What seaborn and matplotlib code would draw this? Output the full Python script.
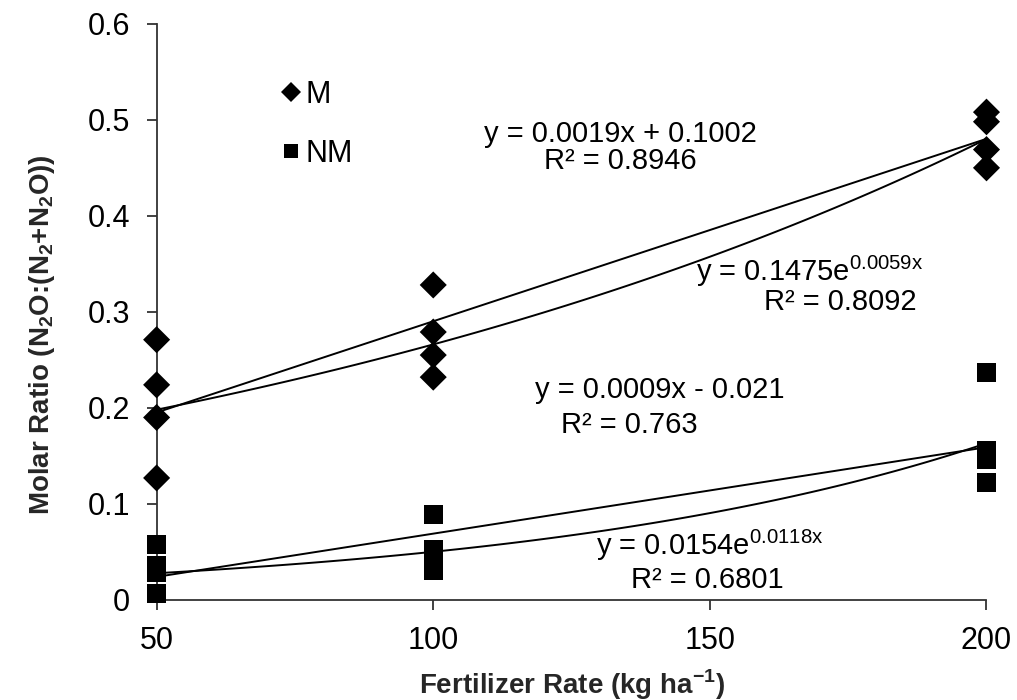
import numpy as np
import pandas as pd
import seaborn as sns
import matplotlib
matplotlib.use("Agg")
import matplotlib.pyplot as plt

# fertilizer rates and measured molar ratios
rate_m = [50, 50, 50, 50, 100, 100, 100, 100, 200, 200, 200, 200]
ratio_m = [0.271, 0.224, 0.190, 0.127, 0.328, 0.279, 0.255, 0.232, 0.508, 0.498, 0.469, 0.450]
rate_nm = [50, 50, 50, 50, 100, 100, 100, 100, 200, 200, 200, 200]
ratio_nm = [0.058, 0.036, 0.029, 0.007, 0.089, 0.052, 0.042, 0.031, 0.237, 0.156, 0.146, 0.122]

# trendline coefficients shown on the chart
lin_m = (0.0019, 0.1002)
exp_m = (0.1475, 0.0059)
lin_nm = (0.0009, -0.021)
exp_nm = (0.0154, 0.0118)

df = pd.concat([
    pd.DataFrame({"rate": rate_m, "ratio": ratio_m, "group": "M"}),
    pd.DataFrame({"rate": rate_nm, "ratio": ratio_nm, "group": "NM"}),
])

sns.set_style("ticks")
plt.rcParams["font.family"] = ["Liberation Sans", "DejaVu Sans"]
plt.rcParams["mathtext.fontset"] = "custom"
plt.rcParams["mathtext.rm"] = "Liberation Sans"
plt.rcParams["mathtext.bf"] = "Liberation Sans:bold"
plt.rcParams["text.color"] = "black"

fig = plt.figure(figsize=(10.17, 7), dpi=100)
ax = fig.add_axes([0.154, 0.143, 0.816, 0.823])

sns.scatterplot(data=df, x="rate", y="ratio", hue="group", style="group",
                markers={"M": "D", "NM": "s"}, palette={"M": "black", "NM": "black"},
                s=190, edgecolor="black", linewidth=0, ax=ax, zorder=3)
for c in ax.collections:
    c.set_clip_on(False)

xs = np.linspace(50, 200, 100)
for a, b in (lin_m, lin_nm):
    ax.plot(xs, a * xs + b, color="black", lw=1.4)
for a, b in (exp_m, exp_nm):
    ax.plot(xs, a * np.exp(b * xs), color="black", lw=1.4)

fs = 21
ax.text(133.8, 0.485, "y = 0.0019x + 0.1002", ha="center", va="center", fontsize=fs)
ax.text(133.8, 0.457, "R² = 0.8946", ha="center", va="center", fontsize=fs)
ax.text(168, 0.342, r"y = 0.1475e$^{\mathrm{0.0059x}}$", ha="center", va="center", fontsize=fs)
ax.text(173.5, 0.310, "R² = 0.8092", ha="center", va="center", fontsize=fs)
ax.text(141, 0.219, "y = 0.0009x - 0.021", ha="center", va="center", fontsize=fs)
ax.text(135.4, 0.182, "R² = 0.763", ha="center", va="center", fontsize=fs)
ax.text(150, 0.057, r"y = 0.0154e$^{\mathrm{0.0118x}}$", ha="center", va="center", fontsize=fs)
ax.text(149.5, 0.021, "R² = 0.6801", ha="center", va="center", fontsize=fs)

ax.set_xlim(50, 200)
ax.set_ylim(0, 0.6)
ax.set_xticks([50, 100, 150, 200])
ax.set_yticks([0, 0.1, 0.2, 0.3, 0.4, 0.5, 0.6])
ax.set_yticklabels(["0", "0.1", "0.2", "0.3", "0.4", "0.5", "0.6"])
ax.tick_params(labelsize=22, length=7, width=1.3, color="#333333", labelcolor="black", pad=12)
for side in ("left", "bottom"):
    ax.spines[side].set_linewidth(1.3)
    ax.spines[side].set_color("#333333")
sns.despine(ax=ax)

ax.set_xlabel(r"Fertilizer Rate (kg ha$^{\mathbf{-1}}$)", fontsize=20, fontweight="bold", labelpad=8)
ax.set_ylabel(r"Molar Ratio (N$_{\mathbf{2}}$O:(N$_{\mathbf{2}}$+N$_{\mathbf{2}}$O))",
              fontsize=20, fontweight="bold")
ax.yaxis.set_label_coords(-0.12, 0.46)

leg = ax.legend(loc="upper left", bbox_to_anchor=(0.11, 0.95), frameon=False,
                fontsize=22, labelspacing=0.95, handletextpad=0.0, markerscale=0.75,
                handlelength=1.0)

fig.savefig("out.png", dpi=100)
